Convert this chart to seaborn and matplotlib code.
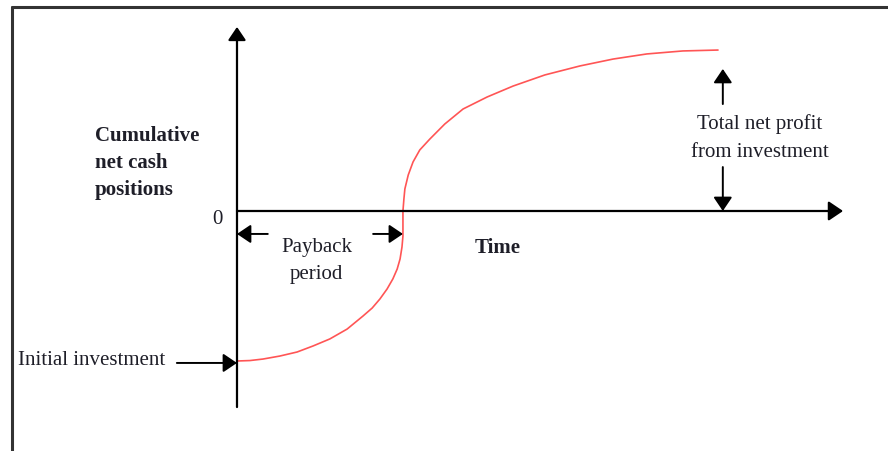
import numpy as np
import pandas as pd
import seaborn as sns
import matplotlib.pyplot as plt
from matplotlib.lines import Line2D

## Données de la courbe (temps, position de trésorerie cumulée)
time = [0.0, 0.27, 0.54, 0.89, 1.25, 1.58, 1.93, 2.29, 2.62, 2.81, 2.97, 3.12,
        3.24, 3.33, 3.39, 3.43, 3.45, 3.45, 3.45,
        3.47, 3.49, 3.56, 3.66, 3.80, 4.01, 4.32, 4.70, 5.20, 5.74, 6.40,
        7.13, 7.82, 8.52, 9.27, 10.0]
cash = [-100.0, -99.7, -98.7, -96.7, -94.0, -90.0, -85.3, -78.7, -70.0, -64.7,
        -58.7, -52.0, -45.3, -38.7, -32.0, -24.0, -16.7, -8.7, 0.0,
        8.0, 14.7, 24.0, 32.7, 40.7, 48.0, 58.0, 68.0, 76.0, 83.3, 90.7,
        96.7, 101.3, 104.7, 106.7, 107.3]
payback = 3.45
initial = -100.0

curve = pd.DataFrame({"time": time, "cash": cash})

sns.set_style("white")
plt.rcParams["font.family"] = ["Liberation Serif", "DejaVu Serif"]

fig = plt.figure(figsize=(8.88, 4.52), dpi=100)
ax = fig.add_axes([0, 0, 1, 1])
ax.set_xlim(-4.927, 13.534)
ax.set_ylim(-160, 141.33)
ax.axis("off")

txt = "#1e1e28"
head = "-|>,head_length=0.4,head_width=0.27"

# courbe
sns.lineplot(data=curve, x="time", y="cash", sort=False, estimator=None,
             color="#ff5555", linewidth=1.2, ax=ax)

# axes avec flèches
ax.annotate("", xy=(0, 122.7), xytext=(0, -130.7),
            arrowprops=dict(arrowstyle=head, color="black", lw=1.6,
                            mutation_scale=20, shrinkA=0, shrinkB=0))
ax.annotate("", xy=(12.6, 0), xytext=(0, 0),
            arrowprops=dict(arrowstyle=head, color="black", lw=1.6,
                            mutation_scale=22, shrinkA=0, shrinkB=0))


def arrow(x0, y0, x1, y1):
    ax.annotate("", xy=(x1, y1), xytext=(x0, y0),
                arrowprops=dict(arrowstyle=head, color="black", lw=1.4,
                                mutation_scale=21, shrinkA=0, shrinkB=0))


# bénéfice total
arrow(10.10, 71.3, 10.10, 94.7)
arrow(10.10, 29.3, 10.10, 0)
ax.text(10.87, 49.3, "Total net profit\nfrom investment", ha="center", va="center",
        fontsize=15, color=txt, linespacing=1.6)

# période de récupération
arrow(0.64, -15.3, 0, -15.3)
arrow(2.83, -15.3, payback, -15.3)
ax.text(1.66, -32.7, "Payback\nperiod", ha="center", va="center",
        fontsize=15, color=txt, linespacing=1.55)

# investissement initial
arrow(-1.25, initial - 1.3, 0, initial - 1.3)
ax.text(-4.55, -98.7, "Initial investment", ha="left", va="center",
        fontsize=15, color=txt)

ax.text(-0.40, -5.3, "0", ha="center", va="center", fontsize=15, color=txt)
ax.text(5.41, -24, "Time", ha="center", va="center", fontsize=15,
        fontweight="bold", color=txt)
ax.text(-2.95, 32.7, "Cumulative\nnet cash\npositions", ha="left", va="center",
        fontsize=15, fontweight="bold", color=txt, linespacing=1.45)

# cadre
fig.add_artist(Line2D([12 / 888, 1], [1 - 8 / 452, 1 - 8 / 452],
                      color="#333333", lw=2.2))
fig.add_artist(Line2D([12 / 888, 12 / 888], [0, 1 - 8 / 452],
                      color="#333333", lw=2.2))

fig.savefig("out.png", dpi=100)
